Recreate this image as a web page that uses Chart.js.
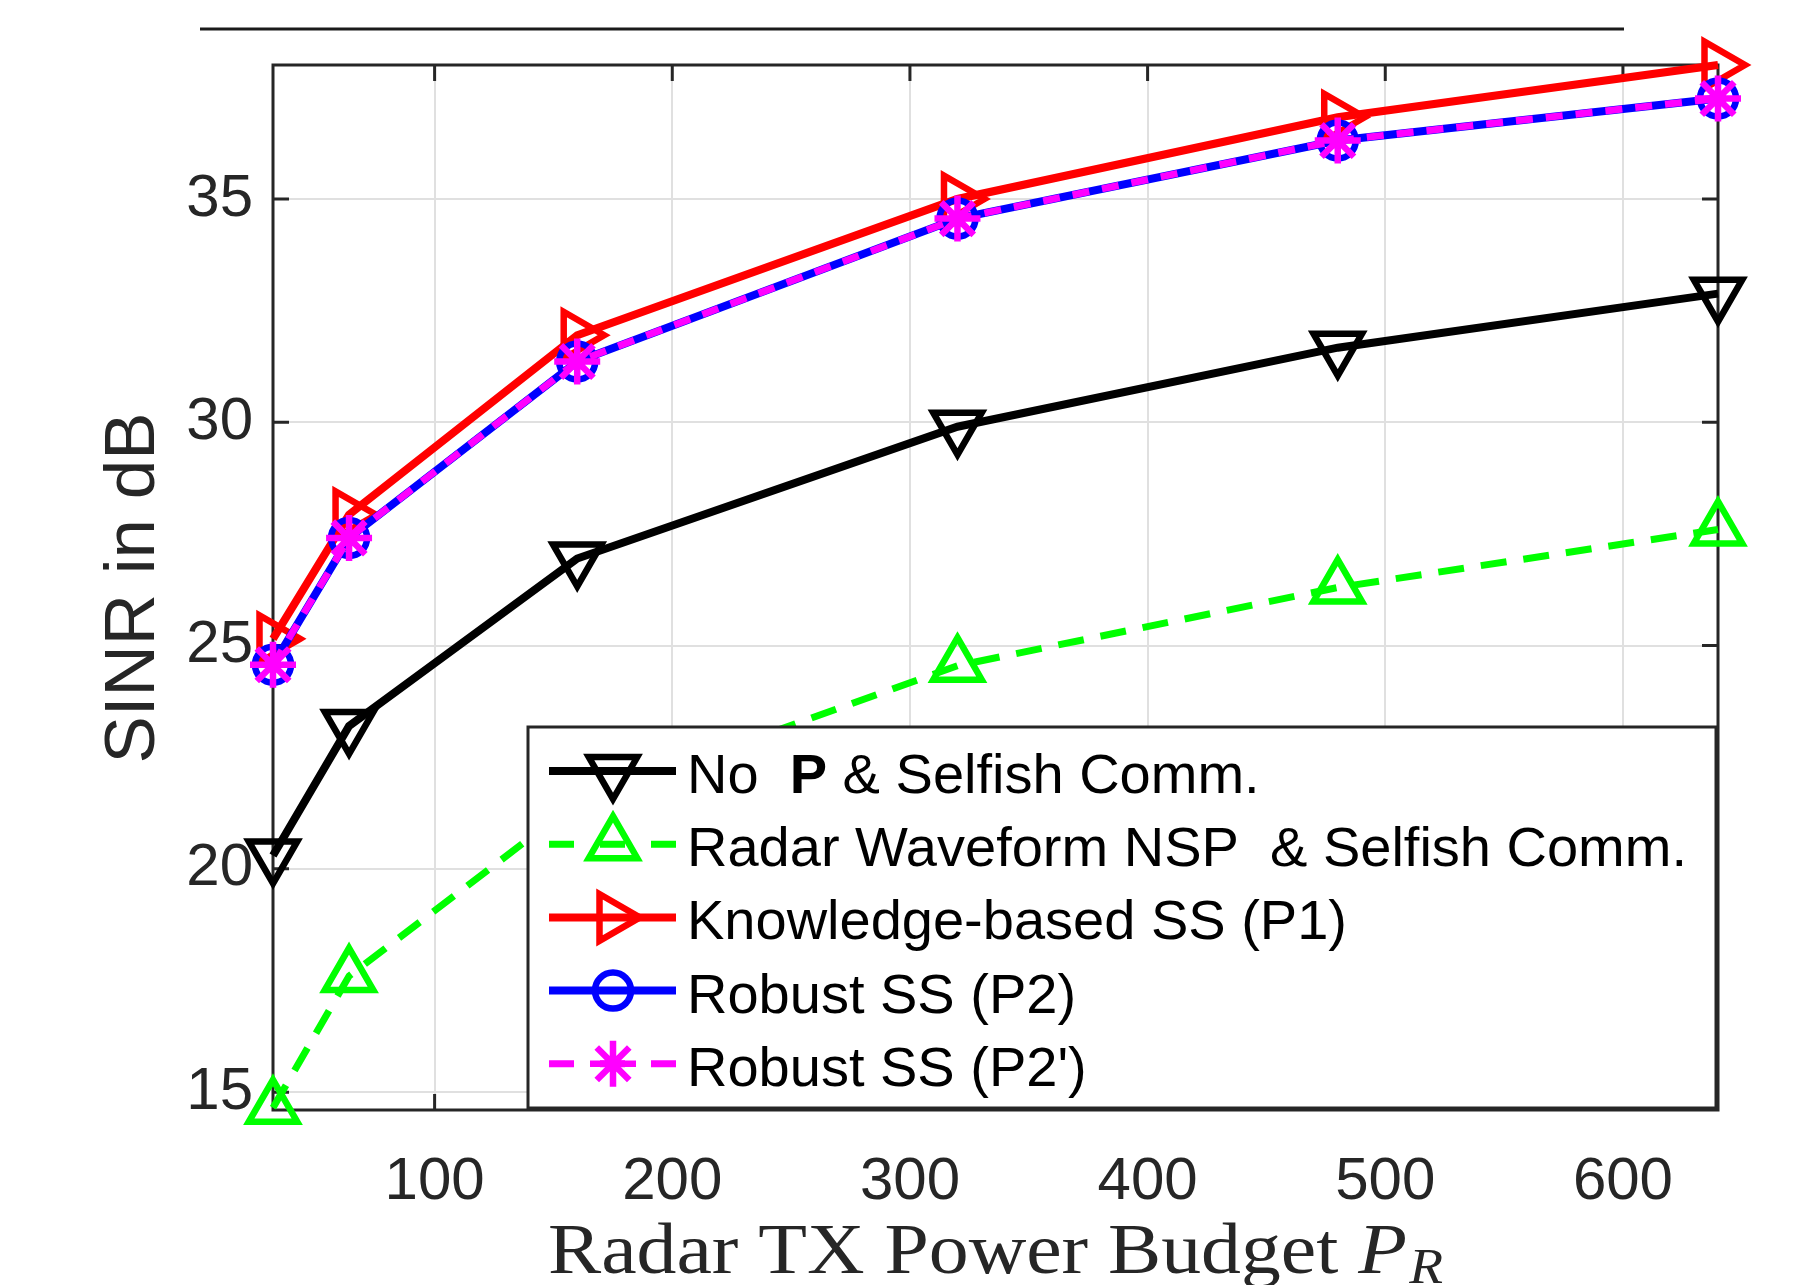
<!DOCTYPE html>
<html><head><meta charset="utf-8">
<script src="https://cdn.jsdelivr.net/npm/chart.js@4.4.1/dist/chart.umd.min.js"></script>
<style>html,body{margin:0;padding:0;background:#fff;}canvas{display:block;}</style>
</head><body>
<canvas id="c" width="1800" height="1285"></canvas>
<script>
// ---- data ----
const xValues = [32, 64, 160, 320, 480, 640];
const noPSelfish = [20.3, 23.2, 26.95, 29.9, 31.67, 32.88];
const nspSelfish = [14.65, 17.6, 21.5, 24.55, 26.3, 27.6];
const knowledgeP1 = [25.15, 27.93, 31.95, 35.0, 36.83, 38.0];
const robustP2 = [24.57, 27.41, 31.36, 34.56, 36.31, 37.25];
const robustP2p = [24.57, 27.41, 31.36, 34.56, 36.31, 37.25];
const xTicks = [100, 200, 300, 400, 500, 600];
const yTicks = [15, 20, 25, 30, 35];
const seriesLabels = ['No  P & Selfish Comm.', 'Radar Waveform NSP  & Selfish Comm.', 'Knowledge-based SS (P1)', 'Robust SS (P2)', "Robust SS (P2')"];
const yTitle = 'SINR in dB';
const xTitleMain = 'Radar TX Power Budget ';
const xTitleVar = 'P';
const xTitleSub = 'R';

const SANS = '"Liberation Sans", Arial, Helvetica, sans-serif';
const SERIF = '"Liberation Serif", "Times New Roman", serif';
const AX = '#262626';

const pts = arr => arr.map((v, i) => ({x: xValues[i], y: v}));

const styles = [
  {color: '#000000', dash: [], style: 'triangle', rot: 180, r: 28, lw: 8},
  {color: '#00ff00', dash: [26, 17], style: 'triangle', rot: 0, r: 28, lw: 7},
  {color: '#ff0000', dash: [], style: 'triangle', rot: 90, r: 27, lw: 8},
  {color: '#0000ff', dash: [], style: 'circle', rot: 0, r: 18, lw: 8},
  {color: '#ff00ff', dash: [17, 13], style: 'star', rot: 0, r: 23, lw: 7}
];
const MARKER_LW = 6.5;
const seriesData = [noPSelfish, nspSelfish, knowledgeP1, robustP2, robustP2p];

const datasets = seriesData.map((d, i) => ({
  label: seriesLabels[i],
  data: pts(d),
  borderColor: styles[i].color,
  backgroundColor: 'rgba(0,0,0,0)',
  borderWidth: styles[i].lw,
  borderDash: styles[i].dash,
  pointStyle: styles[i].style,
  pointRotation: styles[i].rot,
  pointRadius: styles[i].r,
  pointHoverRadius: styles[i].r,
  pointBorderWidth: MARKER_LW,
  pointBorderColor: styles[i].color,
  pointBackgroundColor: 'rgba(0,0,0,0)',
  tension: 0,
  clip: false,
  order: 5 - i
}));

function drawMarker(ctx, style, x, y, r, rotDeg) {
  const rad = rotDeg * Math.PI / 180;
  ctx.beginPath();
  if (style === 'circle') {
    ctx.arc(x, y, r, 0, Math.PI * 2);
  } else if (style === 'triangle') {
    let a = rad;
    ctx.moveTo(x + Math.sin(a) * r, y - Math.cos(a) * r);
    a += 2 * Math.PI / 3;
    ctx.lineTo(x + Math.sin(a) * r, y - Math.cos(a) * r);
    a += 2 * Math.PI / 3;
    ctx.lineTo(x + Math.sin(a) * r, y - Math.cos(a) * r);
    ctx.closePath();
  } else if (style === 'star') {
    for (let k = 0; k < 4; k++) {
      const a = rad + k * Math.PI / 4;
      ctx.moveTo(x - Math.cos(a) * r, y - Math.sin(a) * r);
      ctx.lineTo(x + Math.cos(a) * r, y + Math.sin(a) * r);
    }
  }
  ctx.stroke();
}

const decor = {
  id: 'decor',
  beforeDatasetsDraw(chart) {
    const ctx = chart.ctx, a = chart.chartArea;
    const xs = chart.scales.x, ys = chart.scales.y;
    ctx.save();
    ctx.strokeStyle = AX;
    ctx.lineWidth = 3;
    ctx.strokeRect(a.left, a.top, a.right - a.left, a.bottom - a.top);
    const tl = 16;
    ctx.beginPath();
    xTicks.forEach(v => {
      const px = xs.getPixelForValue(v);
      ctx.moveTo(px, a.bottom); ctx.lineTo(px, a.bottom - tl);
      ctx.moveTo(px, a.top); ctx.lineTo(px, a.top + tl);
    });
    yTicks.forEach(v => {
      const py = ys.getPixelForValue(v);
      ctx.moveTo(a.left, py); ctx.lineTo(a.left + tl, py);
      ctx.moveTo(a.right, py); ctx.lineTo(a.right - tl, py);
    });
    ctx.stroke();
    ctx.restore();
  },
  afterDraw(chart) {
    const ctx = chart.ctx;
    ctx.save();
    ctx.strokeStyle = '#1a1a1a';
    ctx.lineWidth = 3;
    ctx.beginPath(); ctx.moveTo(200, 29); ctx.lineTo(1624, 29); ctx.stroke();

    ctx.fillStyle = AX;
    ctx.font = '71px ' + SANS;
    ctx.textAlign = 'center';
    ctx.textBaseline = 'alphabetic';
    ctx.save();
    ctx.translate(154, 588);
    ctx.rotate(-Math.PI / 2);
    ctx.fillText(yTitle, 0, 0);
    ctx.restore();

    ctx.textAlign = 'left';
    ctx.font = '72px ' + SERIF;
    const w1 = ctx.measureText(xTitleMain).width;
    ctx.font = 'italic 72px ' + SERIF;
    const w2 = ctx.measureText(xTitleVar).width;
    ctx.font = 'italic 50px ' + SERIF;
    const w3 = ctx.measureText(xTitleSub).width;
    const total = w1 + w2 + w3 + 2;
    const sx = 895 / total;
    ctx.save();
    ctx.translate(548, 1273);
    ctx.scale(sx, 1);
    ctx.font = '72px ' + SERIF;
    ctx.fillText(xTitleMain, 0, 0);
    ctx.font = 'italic 72px ' + SERIF;
    ctx.fillText(xTitleVar, w1, 0);
    ctx.font = 'italic 50px ' + SERIF;
    ctx.fillText(xTitleSub, w1 + w2 + 2, 10);
    ctx.restore();

    const L = 528, T = 727, R = 1716, B = 1108;
    ctx.fillStyle = '#ffffff';
    ctx.fillRect(L, T, R - L, B - T);
    ctx.strokeStyle = AX;
    ctx.lineWidth = 3;
    ctx.strokeRect(L, T, R - L, B - T);
    const rowY = i => 771 + i * 73.2;
    const lx0 = 549, lx1 = 676, mx = 613, tx = 687;
    styles.forEach((s, i) => {
      const y = rowY(i);
      ctx.strokeStyle = s.color;
      ctx.lineWidth = s.lw;
      ctx.setLineDash(s.dash.length ? [25, 26] : []);
      ctx.beginPath(); ctx.moveTo(lx0, y); ctx.lineTo(lx1, y); ctx.stroke();
      ctx.setLineDash([]);
      ctx.lineWidth = MARKER_LW;
      drawMarker(ctx, s.style, mx, y, s.r, s.rot);
      ctx.fillStyle = '#000000';
      ctx.textAlign = 'left';
      ctx.textBaseline = 'alphabetic';
      const by = y + 22;
      if (i === 0) {
        const parts = seriesLabels[0].split('P');
        ctx.font = '56px ' + SANS;
        ctx.fillText(parts[0], tx, by);
        let x = tx + ctx.measureText(parts[0]).width;
        ctx.font = 'bold 56px ' + SANS;
        ctx.fillText('P', x, by);
        x += ctx.measureText('P').width;
        ctx.font = '56px ' + SANS;
        ctx.fillText(parts.slice(1).join('P'), x, by);
      } else {
        ctx.font = '56px ' + SANS;
        ctx.fillText(seriesLabels[i], tx, by);
      }
    });
    ctx.restore();
  }
};

new Chart(document.getElementById('c'), {
  type: 'line',
  data: {datasets},
  options: {
    responsive: false,
    animation: false,
    events: [],
    layout: {padding: {top: 65, right: 82, left: 0, bottom: 0}},
    plugins: {legend: {display: false}, tooltip: {enabled: false}, title: {display: false}},
    scales: {
      x: {
        type: 'linear', min: 32, max: 640,
        afterBuildTicks: s => { s.ticks = xTicks.map(v => ({value: v})); },
        afterFit: s => { s.height = 175; },
        grid: {color: '#e0e0e0', lineWidth: 2, drawTicks: false},
        border: {display: false},
        ticks: {color: AX, font: {family: SANS, size: 60}, padding: 36, maxRotation: 0}
      },
      y: {
        type: 'linear', min: 14.6, max: 38,
        afterBuildTicks: s => { s.ticks = yTicks.map(v => ({value: v})); },
        afterFit: s => { s.width = 273; },
        grid: {color: '#e0e0e0', lineWidth: 2, drawTicks: false},
        border: {display: false},
        ticks: {color: AX, font: {family: SANS, size: 60}, padding: 20}
      }
    }
  },
  plugins: [decor]
});
</script>
</body></html>
